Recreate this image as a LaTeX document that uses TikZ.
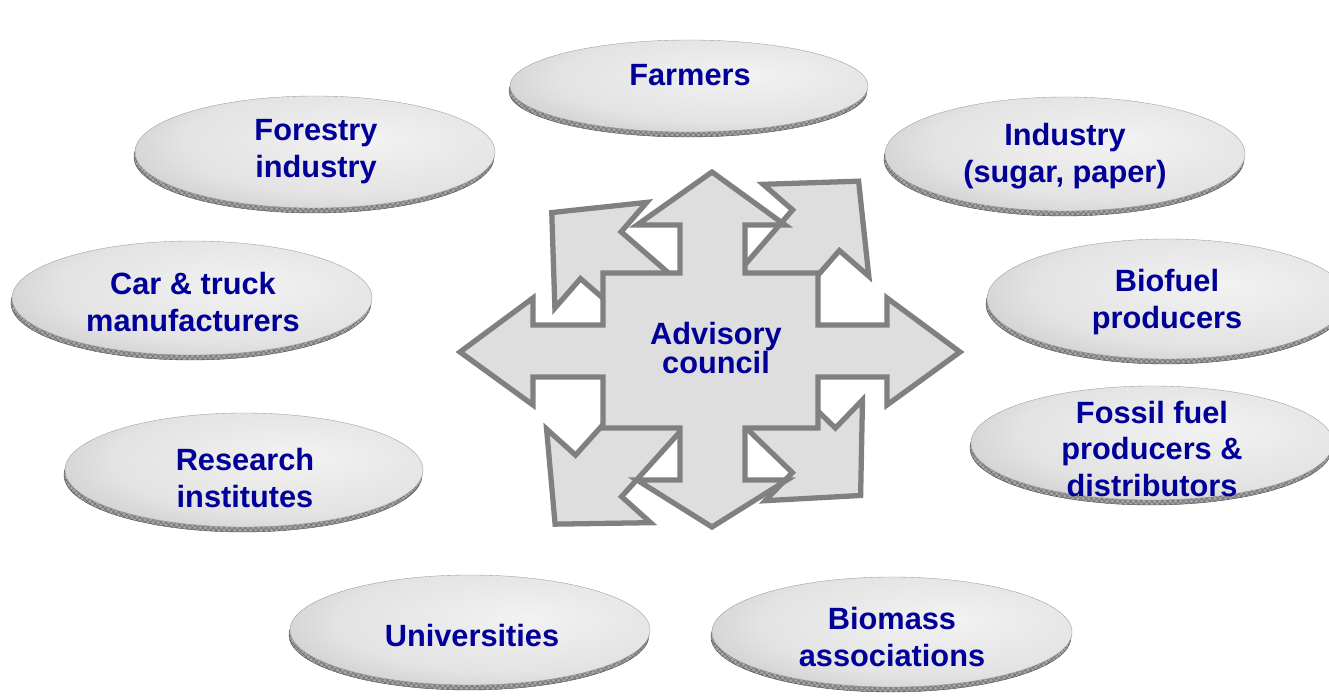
\documentclass[tikz,border=0pt]{standalone}
\usepackage{fontspec}
\setmainfont{Liberation Sans}
\usetikzlibrary{patterns}
\definecolor{councilblue}{RGB}{0,0,153}
\pgfdeclareradialshading{discshade}{\pgfpoint{8bp}{6bp}}{color(0bp)=(black!5); color(24bp)=(black!11); color(40bp)=(black!24); color(54bp)=(black!45); color(80bp)=(black!55)}
\tikzset{
    disc/.style ={shading=discshade,draw=black!40,very thin},
    rim/.style ={fill=black!40,pattern=crosshatch,pattern color=black!55,draw=black!70,very thin},
    lbl/.style ={text=councilblue,font=\fontsize{17.5}{21}\selectfont\bfseries,align=center},
    arw/.style ={fill=black!13,draw=black!50,line width=3pt,line join=miter}}

\begin{document}
\begin{tikzpicture}[x=0.02cm,y=-0.02cm]
        \useasboundingbox (0,0) rectangle (1329,699);
        % stakeholder discs
        \foreach \cx/\cy/\rx/\ry in {689/86/179/46, 315/152/180/56, 1065/154/180/57,
                192/298/180/57, 1167/299/180/60, 1152/443/181/57,
                244/470/179/57, 470/630/180/55, 892/632/180/55}{
            \fill[black!35] (\cx-1,\cy+5) ellipse ({\rx*0.02cm} and {\ry*0.02cm});
            \path[rim] (\cx-1,\cy+5) ellipse ({\rx*0.02cm} and {\ry*0.02cm});
            \path[disc] (\cx,\cy) ellipse ({\rx*0.02cm} and {\ry*0.02cm});
        }
        \node[lbl] (farmers) at (690,75){Farmers};
        \node[lbl] (forestry) at (316,152){Forestry\\industry};
        \node[lbl] (industry) at (1065,156){Industry\\(sugar, paper)};
        \node[lbl] (cartruck) at (193,302){Car \& truck\\manufacturers};
        \node[lbl] (biofuel) at (1167,302){Biofuel\\producers};
        \node[lbl] (fossil) at (1152,449){Fossil fuel\\producers \&\\distributors};
        \node[lbl] (research) at (245,478){Research\\institutes};
        \node[lbl] (universities) at (472,636){Universities};
        \node[lbl] (biomass) at (892,637){Biomass\\associations};
        % diagonal arrows behind the cross
        \coordinate (hub) at (711,351);
        \foreach \ang/\len in {139/211, 49/225, -44/208, 228/233}{
            \begin{scope}[shift={(hub)},rotate=\ang]
                \draw[arw] (0,-31) -- (\len-65,-31) -- (\len-65,-70) -- (\len,0)
                    -- (\len-65,70) -- (\len-65,31) -- (0,31) -- cycle;
            \end{scope}
        }
        % four-way cross
        \draw[arw] (712,172) -- (785,225) -- (745,225) -- (745,273) -- (818,273) -- (818,325)
            -- (887,325) -- (887,298) -- (960,352) -- (887,405) -- (887,377) -- (818,377)
            -- (818,428) -- (745,428) -- (745,480) -- (787,480) -- (712,527) -- (637,480)
            -- (680,480) -- (680,428) -- (603,428) -- (603,377) -- (533,377) -- (533,405)
            -- (460,352) -- (533,298) -- (533,325) -- (603,325) -- (603,273) -- (680,273)
            -- (680,225) -- (637,225) -- cycle;
        \node[lbl,font=\fontsize{17.5}{17}\selectfont\bfseries] (council) at (716,348){Advisory\\council};
    \end{tikzpicture}
\end{document}
